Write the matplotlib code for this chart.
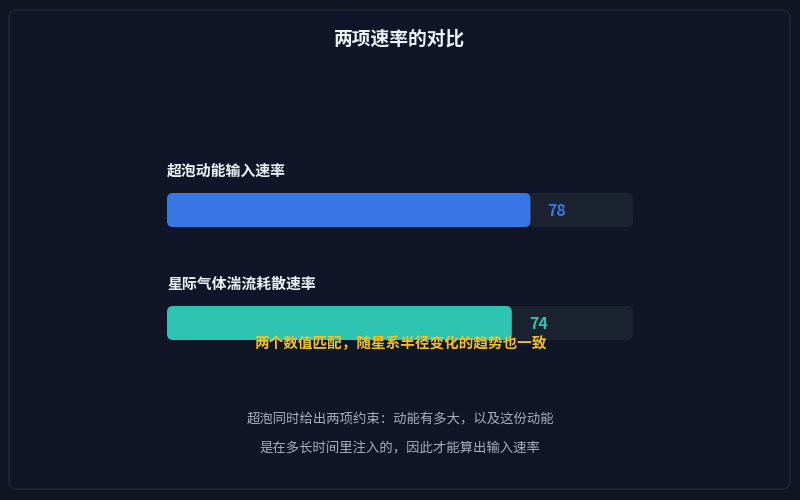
import matplotlib.pyplot as plt
from matplotlib.patches import FancyBboxPatch

plt.rcParams['font.family'] = ['Noto Sans CJK SC', 'DejaVu Sans']

title = "两项速率的对比"
labels = ["超泡动能输入速率", "星际气体湍流耗散速率"]
values = [78, 74]
max_value = 100
colors = ["#3877e3", "#2ec4b1"]
subtitle = "两个数值匹配，随星系半径变化的趋势也一致"
footer = ["超泡同时给出两项约束：动能有多大，以及这份动能",
          "是在多长时间里注入的，因此才能算出输入速率"]

bg = "#0f1523"
track = "#1b2230"

fig = plt.figure(figsize=(8, 5), dpi=100, facecolor=bg)

# background panel in pixel coords
bgax = fig.add_axes([0, 0, 1, 1])
bgax.set_xlim(0, 800)
bgax.set_ylim(500, 0)
bgax.axis("off")
bgax.add_patch(FancyBboxPatch((9, 10), 781, 479, boxstyle="round,pad=0,rounding_size=8",
                              facecolor="#101627", edgecolor="#1e2636", lw=1.2))
bgax.text(400, 39, title, ha="center", va="center", fontsize=13.5, fontweight="bold", color="#eef1f6")

# bar axes: x in value units, y in pixels
x0, x1, ytop, ybot = 167, 633, 150, 360
ax = fig.add_axes([x0 / 800, 1 - ybot / 500, (x1 - x0) / 800, (ybot - ytop) / 500])
ax.set_xlim(0, max_value)
ax.set_ylim(ybot, ytop)
ax.axis("off")
ax.patch.set_alpha(0)

px = max_value / (x1 - x0)
bar_h = 34
for i, (lab, v, c) in enumerate(zip(labels, values, colors)):
    yc = 210 + i * 113
    ax.add_patch(FancyBboxPatch((0, yc - bar_h / 2), max_value, bar_h,
                                boxstyle=f"round,pad=0,rounding_size={6 * px}",
                                mutation_aspect=1 / px, facecolor=track, edgecolor="none"))
    ax.add_patch(FancyBboxPatch((0, yc - bar_h / 2), v, bar_h,
                                boxstyle=f"round,pad=0,rounding_size={6 * px}",
                                mutation_aspect=1 / px, facecolor=c, edgecolor="none"))
    ax.text(v + 17 * px, yc + 1, str(v), ha="left", va="center", fontsize=11.5,
            fontweight="bold", color=c)
    ax.text(0, yc - 39, lab, ha="left", va="center", fontsize=10.7,
            fontweight="bold", color="#eef1f6", clip_on=False)

# overlay caption drawn on top of the bars
fig.text(0.5, 1 - 343 / 500, subtitle, ha="center", va="center", fontsize=10.5,
         fontweight="bold", color="#f2c21b", zorder=10)
bgax.text(400, 419, footer[0], ha="center", va="center", fontsize=9.6, color="#a7afbd")
bgax.text(400, 448, footer[1], ha="center", va="center", fontsize=9.6, color="#a7afbd")

fig.savefig("out.png", dpi=100, facecolor=bg)
